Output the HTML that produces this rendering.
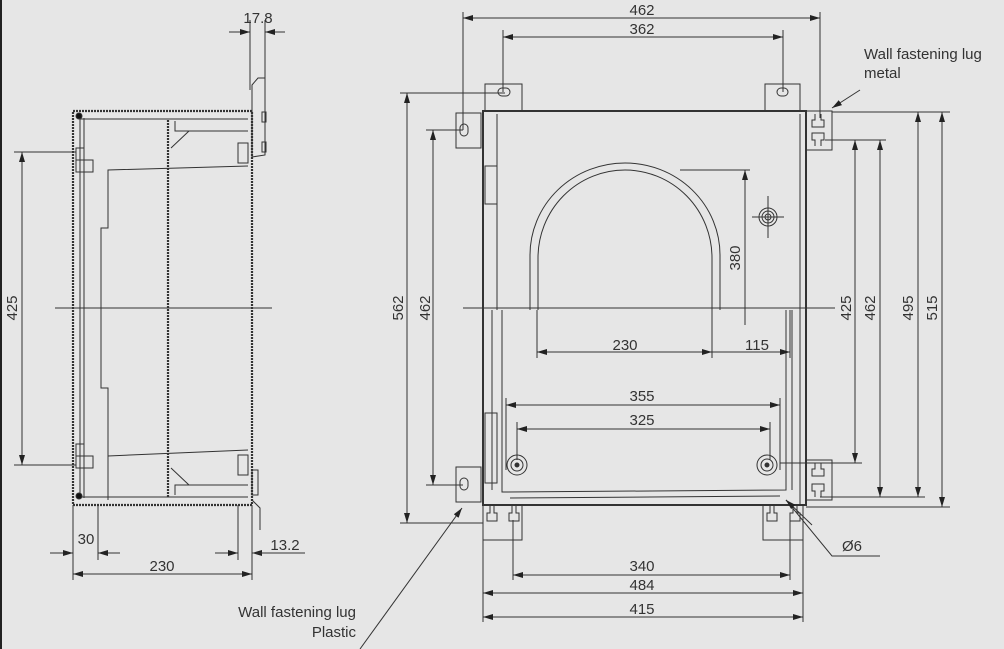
<!DOCTYPE html>
<html><head><style>
html,body{margin:0;padding:0;background:#e6e6e6;}
svg{display:block;}
text{font-family:"Liberation Sans",sans-serif;font-size:15px;fill:#333;}
</style></head><body>
<svg width="1004" height="649" viewBox="0 0 1004 649" xmlns="http://www.w3.org/2000/svg">
<defs>
<marker id="a" viewBox="0 0 10 6" refX="10" refY="3" markerWidth="10" markerHeight="6" orient="auto-start-reverse" markerUnits="userSpaceOnUse"><path d="M0,0L10,3L0,6z" fill="#222"/></marker>
</defs>
<rect x="0" y="0" width="2" height="649" fill="#222"/>
<g stroke="#333" stroke-width="1" fill="none">
<!-- LEFT VIEW -->
<rect x="73" y="111" width="179" height="394" stroke-width="2.2" stroke-dasharray="2,1"/>
<line x1="168" y1="120" x2="168" y2="497" stroke-width="2.2" stroke-dasharray="2,1"/>
<line x1="80" y1="118" x2="80" y2="498"/>
<line x1="84" y1="118" x2="84" y2="498"/>
<line x1="80" y1="119" x2="248" y2="119"/>
<line x1="80" y1="497" x2="248" y2="497"/>
<polyline points="108,500 108,388 101,388 101,228 108,228 108,170 248,166"/>
<polyline points="108,456 248,450"/>
<polyline points="175,121 175,131 248,131"/>
<polyline points="189,131 171,148"/>
<polyline points="175,495 175,485 248,485"/>
<polyline points="189,485 171,468"/>
<rect x="76" y="148" width="8" height="12"/><rect x="76" y="160" width="17" height="12"/>
<rect x="76" y="444" width="8" height="12"/><rect x="76" y="456" width="17" height="12"/>
<path d="M238,143h10v20h-10z"/><path d="M238,455h10v20h-10z"/>
<path d="M252,85L258,78L265,78L265,155L252,157z"/>
<rect x="262" y="112" width="4" height="10"/><rect x="262" y="142" width="4" height="10"/>
<path d="M252,470h6v25h-6z"/>
<path d="M252,500L260,508L260,530"/>
<circle cx="79" cy="116" r="3" fill="#111"/><circle cx="79" cy="496" r="3" fill="#111"/>
<line x1="55" y1="308" x2="272" y2="308"/>
<!-- left dims -->
<line x1="14" y1="152" x2="76" y2="152"/><line x1="14" y1="465" x2="76" y2="465"/>
<line x1="22" y1="152" x2="22" y2="465" marker-start="url(#a)" marker-end="url(#a)"/>
<line x1="250" y1="20" x2="250" y2="90"/><line x1="265" y1="20" x2="265" y2="80"/>
<line x1="229" y1="32" x2="250" y2="32" marker-end="url(#a)"/><line x1="285" y1="32" x2="265" y2="32" marker-end="url(#a)"/>
<line x1="73" y1="505" x2="73" y2="580"/><line x1="98" y1="505" x2="98" y2="560"/><line x1="252" y1="505" x2="252" y2="580"/><line x1="238" y1="505" x2="238" y2="560"/>
<line x1="50" y1="553" x2="73" y2="553" marker-end="url(#a)"/><line x1="120" y1="553" x2="98" y2="553" marker-end="url(#a)"/>
<line x1="73" y1="574" x2="252" y2="574" marker-start="url(#a)" marker-end="url(#a)"/>
<line x1="215" y1="553" x2="238" y2="553" marker-end="url(#a)"/><line x1="275" y1="553" x2="252" y2="553" marker-end="url(#a)"/>
<line x1="252" y1="553" x2="305" y2="553"/>

<!-- RIGHT VIEW -->
<rect x="483" y="111" width="323" height="394" stroke-width="2"/>
<line x1="497" y1="114" x2="497" y2="310"/>
<line x1="800" y1="114" x2="800" y2="505"/>
<rect x="485" y="166" width="12" height="38"/>
<rect x="485" y="413" width="12" height="70"/>
<line x1="492" y1="310" x2="492" y2="490"/>
<line x1="792" y1="310" x2="792" y2="490"/>
<polyline points="502,310 502,492 786,490 786,310"/>
<line x1="510" y1="498" x2="780" y2="496"/>
<rect x="485" y="84" width="37" height="27"/><rect x="498" y="88" width="12" height="8" rx="4"/>
<rect x="765" y="84" width="35" height="27"/><rect x="777" y="88" width="11" height="8" rx="4"/>
<rect x="456" y="113" width="25" height="35"/><rect x="460" y="124" width="8" height="12" rx="4"/>
<rect x="456" y="467" width="25" height="35"/><rect x="460" y="478" width="8" height="12" rx="4"/>
<rect x="806" y="111" width="26" height="39"/><rect x="806" y="460" width="26" height="40"/>
<path d="M815,114v6h-3v7h12v-7h-3v-6"/><path d="M815,146v-6h-3v-7h12v7h-3v6"/>
<path d="M815,463v6h-3v7h12v-7h-3v-6"/><path d="M815,497v-6h-3v-7h12v7h-3v6"/>
<rect x="483" y="505" width="39" height="35"/><rect x="763" y="505" width="40" height="35"/>
<path d="M490,505v8h-3v8h10v-8h-3v-8M512,505v8h-3v8h10v-8h-3v-8"/>
<path d="M770,505v8h-3v8h10v-8h-3v-8M793,505v8h-3v8h10v-8h-3v-8"/>
<path d="M530,310V255A95,92 0 0 1 720,255V310"/>
<path d="M538,310V258A87,88 0 0 1 712,258V310"/>
<line x1="537" y1="310" x2="537" y2="358"/><line x1="712" y1="310" x2="712" y2="358"/>
<circle cx="768" cy="217" r="9"/><circle cx="768" cy="217" r="6"/><circle cx="768" cy="217" r="3"/>
<line x1="752" y1="217" x2="784" y2="217"/><line x1="768" y1="196" x2="768" y2="238"/>
<circle cx="517" cy="465" r="10"/><circle cx="517" cy="465" r="6"/><circle cx="517" cy="465" r="2" fill="#333"/>
<circle cx="767" cy="465" r="10"/><circle cx="767" cy="465" r="6"/><circle cx="767" cy="465" r="2" fill="#333"/>
<line x1="463" y1="308" x2="835" y2="308"/>
<!-- right dims -->
<line x1="463" y1="12" x2="463" y2="130"/><line x1="820" y1="12" x2="820" y2="118"/>
<line x1="463" y1="18" x2="820" y2="18" marker-start="url(#a)" marker-end="url(#a)"/>
<line x1="503" y1="30" x2="503" y2="92"/><line x1="783" y1="30" x2="783" y2="92"/>
<line x1="503" y1="37" x2="783" y2="37" marker-start="url(#a)" marker-end="url(#a)"/>
<line x1="400" y1="93" x2="505" y2="93"/><line x1="400" y1="523" x2="483" y2="523"/>
<line x1="407" y1="93" x2="407" y2="523" marker-start="url(#a)" marker-end="url(#a)"/>
<line x1="426" y1="130" x2="463" y2="130"/><line x1="426" y1="485" x2="463" y2="485"/>
<line x1="433" y1="130" x2="433" y2="485" marker-start="url(#a)" marker-end="url(#a)"/>
<line x1="680" y1="170" x2="750" y2="170"/>
<line x1="745" y1="325" x2="745" y2="170" marker-end="url(#a)"/>
<line x1="825" y1="140" x2="862" y2="140"/><line x1="780" y1="463" x2="862" y2="463"/>
<line x1="855" y1="140" x2="855" y2="463" marker-start="url(#a)" marker-end="url(#a)"/>
<line x1="862" y1="140" x2="886" y2="140"/><line x1="820" y1="497" x2="925" y2="497"/>
<line x1="880" y1="140" x2="880" y2="497" marker-start="url(#a)" marker-end="url(#a)"/>
<line x1="832" y1="112" x2="950" y2="112"/><line x1="806" y1="507" x2="950" y2="507"/>
<line x1="918" y1="112" x2="918" y2="497" marker-start="url(#a)" marker-end="url(#a)"/>
<line x1="942" y1="112" x2="942" y2="507" marker-start="url(#a)" marker-end="url(#a)"/>
<line x1="537" y1="352" x2="712" y2="352" marker-start="url(#a)" marker-end="url(#a)"/>
<line x1="712" y1="352" x2="790" y2="352" marker-end="url(#a)"/>
<line x1="790" y1="310" x2="790" y2="358"/>
<line x1="506" y1="398" x2="506" y2="470"/><line x1="780" y1="398" x2="780" y2="470"/>
<line x1="506" y1="405" x2="780" y2="405" marker-start="url(#a)" marker-end="url(#a)"/>
<line x1="517" y1="422" x2="517" y2="460"/><line x1="770" y1="422" x2="770" y2="460"/>
<line x1="517" y1="429" x2="770" y2="429" marker-start="url(#a)" marker-end="url(#a)"/>
<line x1="483" y1="540" x2="483" y2="622"/><line x1="803" y1="540" x2="803" y2="622"/>
<line x1="513" y1="520" x2="513" y2="580"/><line x1="790" y1="520" x2="790" y2="580"/>
<line x1="513" y1="575" x2="790" y2="575" marker-start="url(#a)" marker-end="url(#a)"/>
<line x1="483" y1="593" x2="803" y2="593" marker-start="url(#a)" marker-end="url(#a)"/>
<line x1="483" y1="617" x2="803" y2="617" marker-start="url(#a)" marker-end="url(#a)"/>
<!-- leaders -->
<line x1="860" y1="90" x2="832" y2="108" marker-end="url(#a)"/>
<polyline points="880,556 832,556 786,500" />
<line x1="812" y1="525" x2="786" y2="500" marker-end="url(#a)"/>
<line x1="360" y1="649" x2="462" y2="508" marker-end="url(#a)"/>
</g>
<g>
<text x="642" y="15" text-anchor="middle">462</text>
<text x="642" y="34" text-anchor="middle">362</text>
<text x="258" y="23" text-anchor="middle">17.8</text>
<text x="864" y="59">Wall fastening lug</text>
<text x="864" y="78">metal</text>
<text x="356" y="617" text-anchor="end">Wall fastening lug</text>
<text x="356" y="637" text-anchor="end">Plastic</text>
<text x="842" y="551">Ø6</text>
<text x="625" y="350" text-anchor="middle">230</text>
<text x="757" y="350" text-anchor="middle">115</text>
<text x="642" y="401" text-anchor="middle">355</text>
<text x="642" y="425" text-anchor="middle">325</text>
<text x="642" y="571" text-anchor="middle">340</text>
<text x="642" y="590" text-anchor="middle">484</text>
<text x="642" y="614" text-anchor="middle">415</text>
<text x="86" y="544" text-anchor="middle">30</text>
<text x="162" y="571" text-anchor="middle">230</text>
<text x="285" y="550" text-anchor="middle">13.2</text>
<text transform="translate(17,308) rotate(-90)" text-anchor="middle">425</text>
<text transform="translate(403,308) rotate(-90)" text-anchor="middle">562</text>
<text transform="translate(430,308) rotate(-90)" text-anchor="middle">462</text>
<text transform="translate(740,258) rotate(-90)" text-anchor="middle">380</text>
<text transform="translate(851,308) rotate(-90)" text-anchor="middle">425</text>
<text transform="translate(875,308) rotate(-90)" text-anchor="middle">462</text>
<text transform="translate(913,308) rotate(-90)" text-anchor="middle">495</text>
<text transform="translate(937,308) rotate(-90)" text-anchor="middle">515</text>
</g>
</svg>
</body></html>
